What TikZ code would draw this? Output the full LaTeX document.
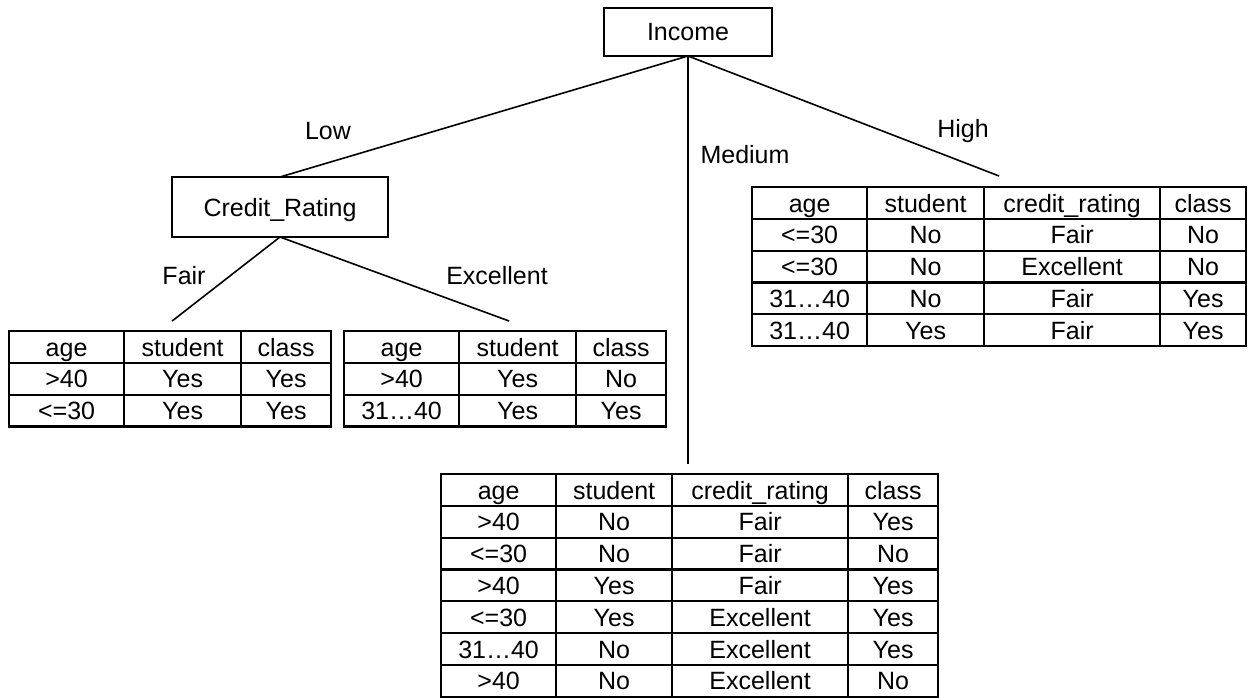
\documentclass[tikz,border=0pt]{standalone}
\usepackage{fontspec}
\setmainfont{Liberation Sans}
\usetikzlibrary{matrix}
\begin{document}
\begin{tikzpicture}[x=1pt, y=-1pt,
  every node/.style={font=\fontsize{25}{30}\selectfont},
  box/.style={draw, line width=2pt, inner sep=0pt, outer sep=0pt,
    text height=22pt, text depth=4pt},
  branch/.style={line width=1.6pt},
  lbl/.style={inner sep=0pt},
  tbl/.style={matrix of nodes, anchor=north west, inner sep=0pt, outer sep=0pt,
    column sep=-2.2pt, row sep=-2.2pt,
    nodes={draw, line width=2.2pt, inner sep=0pt, outer sep=0pt,
      minimum height=31.8pt, text height=22pt, text depth=4pt, anchor=center}},
  threecol/.style={
    column 1/.style={nodes={minimum width=115pt}},
    column 2/.style={nodes={minimum width=117pt}},
    column 3/.style={nodes={minimum width=90pt}}},
  fourcol/.style 2 args={
    column 1/.style={nodes={minimum width=115pt}},
    column 2/.style={nodes={minimum width=#1}},
    column 3/.style={nodes={minimum width=176pt}},
    column 4/.style={nodes={minimum width=#2}}},
]
\useasboundingbox (0,0) rectangle (1249,698);

% decision nodes
\node[box, minimum width=168pt, minimum height=48pt] (inc) at (688,32) {Income};
\node[box, minimum width=216pt, minimum height=60pt] (cr) at (280,207) {Credit\_Rating};

% leaf tables
\matrix (t1) [tbl, threecol] at (8,330) {
  age & student & class \\
  >40 & Yes & Yes \\
  <=30 & Yes & Yes \\
};
\matrix (t2) [tbl, threecol] at (343,330) {
  age & student & class \\
  >40 & Yes & No \\
  31…40 & Yes & Yes \\
};
\matrix (tH) [tbl, fourcol={117pt}{86pt}] at (751,186) {
  age & student & credit\_rating & class \\
  <=30 & No & Fair & No \\
  <=30 & No & Excellent & No \\
  31…40 & No & Fair & Yes \\
  31…40 & Yes & Fair & Yes \\
};
\matrix (tM) [tbl, fourcol={116pt}{90pt}] at (440,473) {
  age & student & credit\_rating & class \\
  >40 & No & Fair & Yes \\
  <=30 & No & Fair & No \\
  >40 & Yes & Fair & Yes \\
  <=30 & Yes & Excellent & Yes \\
  31…40 & No & Excellent & Yes \\
  >40 & No & Excellent & No \\
};

% branch ends, just above each table
\coordinate (eH) at ([yshift=10pt]tH.north);
\path (inc.south |- tM.north) ++(0,-9) coordinate (eM);
\coordinate (e1) at ([xshift=2pt, yshift=9pt]t1.north);
\coordinate (e2) at ([xshift=4pt, yshift=9pt]t2.north);

% branches
\draw[branch] (inc.south) -- (cr.north);
\draw[branch] (inc.south) -- (eM);
\draw[branch] (inc.south) -- (eH);
\draw[branch] (cr.south) -- (e1);
\draw[branch] (cr.south) -- (e2);

% branch labels
\node[lbl] (lLow) at (328,131) {Low};
\node[lbl] (lMed) at (745,155) {Medium};
\node[lbl] (lHigh) at (963,131) {High};
\node[lbl] (lFair) at (184,276) {Fair};
\node[lbl] (lExc) at (497,276) {Excellent};
\end{tikzpicture}
\end{document}
